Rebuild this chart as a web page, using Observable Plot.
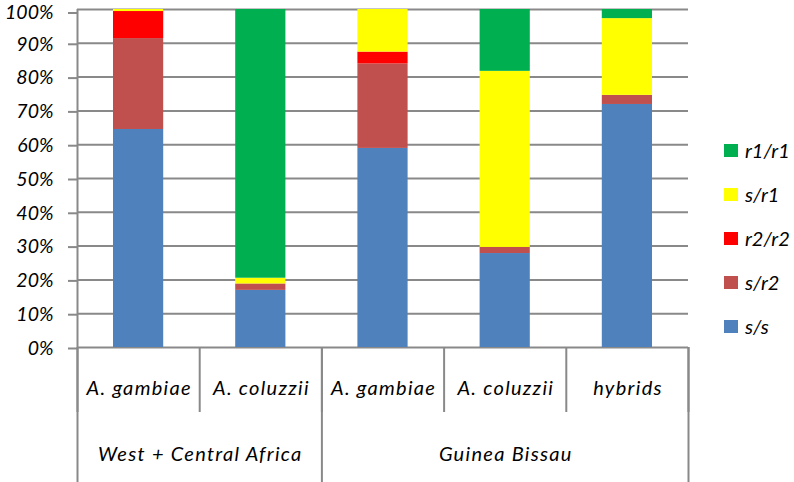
<!DOCTYPE html>
<html><head><meta charset="utf-8">
<script src="https://cdn.jsdelivr.net/npm/d3@7"></script>
<script src="https://cdn.jsdelivr.net/npm/@observablehq/plot@0.6"></script>
<style>
body{margin:0;background:#fff;}
#wrap{position:relative;width:794px;height:482px;font-family:Lato,sans-serif;font-style:italic;}
#wrap svg g[aria-label="text"] text{letter-spacing:1.3px;}
#legend{position:absolute;left:724px;top:128px;}
.item{display:flex;align-items:center;height:44px;font-size:20px;color:#000;white-space:nowrap;}
.sw{width:14px;height:13px;margin-right:7px;flex:none;}
</style></head><body><div id="wrap"><div id="legend"></div></div>
<script>
// Data (percent of each genotype per bar)
const species = ["A. gambiae", "A. coluzzii", "A. gambiae", "A. coluzzii", "hybrids"];
const regions = ["West + Central Africa", "West + Central Africa", "Guinea Bissau", "Guinea Bissau", "Guinea Bissau"];
const genotypes = ["s/s", "s/r2", "r2/r2", "s/r1", "r1/r1"];
const colors = ["#4F81BD", "#C0504D", "#FF0000", "#FFFF00", "#00B050"];
const ss   = [64.5, 16.9, 58.9, 27.8, 71.9];
const sr2  = [26.9,  1.9, 25.0,  1.8,  2.7];
const r2r2 = [ 8.0,  0.0,  3.5,  0.0,  0.0];
const sr1  = [ 0.6,  1.7, 12.6, 52.1, 22.7];
const r1r1 = [ 0.0, 79.5,  0.0, 18.3,  2.7];
const yTicks = [0, 10, 20, 30, 40, 50, 60, 70, 80, 90, 100];

const series = [ss, sr2, r2r2, sr1, r1r1];
const rows = [];
species.forEach((s, i) => {
  let acc = 0;
  series.forEach((vals, k) => {
    rows.push({i, genotype: genotypes[k], y1: acc, y2: acc + vals[i]});
    acc += vals[i];
  });
});
const groups = Array.from(new Set(regions)).map(r => {
  const idx = regions.map((g, i) => g === r ? i : null).filter(v => v !== null);
  return {name: r, x: d3.mean(idx) + 0.5, lo: d3.min(idx)};
});
const catEdges = d3.range(species.length + 1);
const groupEdges = [...groups.map(g => g.lo), species.length];
const yMax = d3.max(yTicks);

const gray = "#898989";
const axisOpts = {tickSize: 9, tickPadding: 15, tickFormat: d => d + "%", stroke: gray, strokeWidth: 2, label: null, fontSize: 19.5};
const chart = Plot.plot({
  width: 794, height: 482,
  marginLeft: 77, marginRight: 106, marginTop: 9, marginBottom: 135,
  style: {fontFamily: "Lato, sans-serif", fontStyle: "italic", fontSize: "20px", color: "#000", background: "white", overflow: "visible"},
  x: {domain: [0, species.length], axis: null},
  y: {domain: [0, yMax], axis: null},
  color: {domain: genotypes, range: colors},
  marks: [
    Plot.ruleY(yTicks, {stroke: gray, strokeWidth: 2}),
    Plot.rect(rows, {x1: d => d.i, x2: d => d.i + 1, y1: "y1", y2: "y2", fill: "genotype", insetLeft: 36, insetRight: 36}),
    Plot.ruleX([0], {stroke: gray, strokeWidth: 2}),
    Plot.axisY({...axisOpts, ticks: yTicks.filter(t => t < yMax), dy: 1}),
    Plot.axisY({...axisOpts, ticks: [yMax], dy: 3.5}),
    Plot.axisX({ticks: catEdges, tickSize: 65, tickFormat: () => "", stroke: gray, strokeWidth: 2, label: null}),
    Plot.axisX({ticks: groupEdges, tickSize: 135, tickFormat: () => "", stroke: gray, strokeWidth: 2, label: null}),
    Plot.text(species, {x: (d, i) => i + 0.5, y: () => 0, dy: 41, dx: 0.6, text: d => d, fill: "#000"}),
    Plot.text(groups, {x: "x", y: () => 0, dy: 107, dx: 0.6, text: "name", fill: "#000"})
  ]
});
const wrap = document.getElementById("wrap");
wrap.insertBefore(chart, wrap.firstChild);

const legend = document.getElementById("legend");
genotypes.slice().reverse().forEach(g => {
  const item = document.createElement("div");
  item.className = "item";
  const sw = document.createElement("span");
  sw.className = "sw";
  sw.style.background = colors[genotypes.indexOf(g)];
  const t = document.createElement("span");
  t.textContent = g;
  item.appendChild(sw); item.appendChild(t);
  legend.appendChild(item);
});
</script>
</body></html>
